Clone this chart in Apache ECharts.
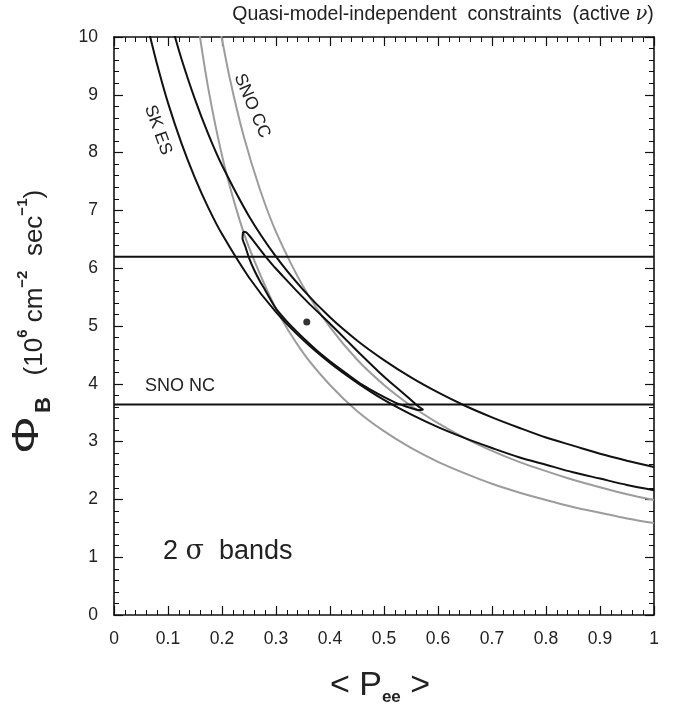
<!DOCTYPE html>
<html><head><meta charset="utf-8">
<script src="https://cdn.jsdelivr.net/npm/echarts@6/dist/echarts.min.js"></script>
<style>html,body{margin:0;padding:0;background:#fff}#c{width:680px;height:713px}</style>
</head><body><div id="c"></div>
<script>
// SK ES 2-sigma band (black)
const skLowerP   = [0.065,0.08,0.1,0.125,0.15,0.175,0.2,0.25,0.3,0.35,0.4,0.45,0.5,0.55,0.6,0.65,0.7,0.75,0.8,0.85,0.9,0.95,1.0];
const skLowerPhi = [10.08,9.52,8.86,8.16,7.56,7.04,6.59,5.84,5.24,4.76,4.36,4.02,3.72,3.47,3.25,3.06,2.89,2.73,2.60,2.47,2.36,2.25,2.16];
const skUpperP   = [0.11,0.125,0.15,0.175,0.2,0.25,0.3,0.35,0.4,0.45,0.5,0.55,0.6,0.65,0.7,0.75,0.8,0.85,0.9,0.95,1.0];
const skUpperPhi = [10.10,9.62,8.92,8.31,7.78,6.90,6.20,5.63,5.15,4.75,4.41,4.11,3.85,3.62,3.42,3.24,3.07,2.93,2.79,2.67,2.56];
// SNO CC 2-sigma band (gray)
const ccLowerP   = [0.155,0.175,0.2,0.225,0.25,0.3,0.35,0.4,0.45,0.5,0.55,0.6,0.65,0.7,0.75,0.8,0.85,0.9,0.95,1.0];
const ccLowerPhi = [10.26,9.09,7.95,7.07,6.36,5.30,4.54,3.98,3.53,3.18,2.89,2.65,2.45,2.27,2.12,1.99,1.87,1.77,1.67,1.59];
const ccUpperP   = [0.195,0.215,0.24,0.27,0.3,0.35,0.4,0.45,0.5,0.55,0.6,0.65,0.7,0.75,0.8,0.85,0.9,0.95,1.0];
const ccUpperPhi = [10.21,9.26,8.29,7.37,6.63,5.69,4.98,4.42,3.98,3.62,3.32,3.06,2.84,2.65,2.49,2.34,2.21,2.09,1.99];
// SNO NC 2-sigma band (horizontal)
const ncLevels = [6.2, 3.64];
const ncRangeP = [0, 1];
// combined 2-sigma contour
const contourP   = [0.239,0.245,0.25,0.26,0.27,0.28,0.30,0.32,0.34,0.36,0.38,0.40,0.43,0.46,0.49,0.52,0.55,0.565,0.572,
                    0.565,0.55,0.52,0.49,0.46,0.43,0.40,0.38,0.36,0.34,0.32,0.30,0.28,0.27,0.26,0.25,0.243,0.238,0.239];
const contourPhi = [6.63,6.62,6.57,6.45,6.33,6.21,5.99,5.79,5.59,5.40,5.22,5.04,4.76,4.48,4.21,3.96,3.72,3.60,3.555,
                    3.545,3.58,3.68,3.82,3.98,4.18,4.39,4.54,4.71,4.89,5.08,5.30,5.62,5.78,5.96,6.18,6.38,6.52,6.63];
// best fit point
const bestFit = [0.357, 5.07];
// ticks
const xTicks = [0,0.1,0.2,0.3,0.4,0.5,0.6,0.7,0.8,0.9,1];
const yTicks = [0,1,2,3,4,5,6,7,8,9,10];

const zip = (a,b) => a.map((v,i)=>[v,b[i]]);
const FONT = 'Liberation Sans, Arial, sans-serif';
const BLACK = '#111', GRAY = '#9c9c9c';

function axisCommon(extra){
  return Object.assign({
    type:'value', splitLine:{show:false},
    axisLine:{show:true, onZero:false, lineStyle:{color:BLACK, width:1.6}},
    axisTick:{show:true, inside:true, length:9, lineStyle:{color:BLACK, width:1.2}},
    minorTick:{show:true, splitNumber:5, length:5, lineStyle:{color:BLACK, width:1}},
  }, extra);
}

const chart = echarts.init(document.getElementById('c'), null, {renderer:'canvas'});
const lineS = (name, data, color, z) => ({
  name, type:'line', data, showSymbol:false, symbol:'none', smooth:0.3, clip:true, z:z||2,
  lineStyle:{color, width:2}, animation:false, xAxisIndex:0, yAxisIndex:0
});

chart.setOption({
  animation:false,
  backgroundColor:'#fff',
  grid:{left:114, right:26, top:37, bottom:98, containLabel:false},
  xAxis:[
    axisCommon({position:'bottom', min:xTicks[0], max:xTicks[xTicks.length-1], interval:0.1,
      axisLabel:{show:true, color:'#222', fontSize:17.5, fontFamily:FONT, margin:15,
        formatter:v=>String(Math.round(v*10)/10)}}),
    axisCommon({position:'top', min:0, max:1, interval:0.1, axisLabel:{show:false}})
  ],
  yAxis:[
    axisCommon({position:'left', min:yTicks[0], max:yTicks[yTicks.length-1], interval:1,
      axisLabel:{show:true, color:'#222', fontSize:17.5, fontFamily:FONT, margin:16}}),
    axisCommon({position:'right', min:0, max:10, interval:1, axisLabel:{show:false}})
  ],
  series:[
    lineS('SK ES low', zip(skLowerP, skLowerPhi), BLACK, 3),
    lineS('SK ES high', zip(skUpperP, skUpperPhi), BLACK, 3),
    lineS('SNO CC low', zip(ccLowerP, ccLowerPhi), GRAY, 2),
    lineS('SNO CC high', zip(ccUpperP, ccUpperPhi), GRAY, 2),
    Object.assign(lineS('SNO NC high', zip(ncRangeP, [ncLevels[0], ncLevels[0]]), BLACK, 3), {smooth:false}),
    Object.assign(lineS('SNO NC low', zip(ncRangeP, [ncLevels[1], ncLevels[1]]), BLACK, 3), {smooth:false}),
    Object.assign(lineS('contour', zip(contourP, contourPhi), BLACK, 4), {smooth:0.25}),
    {type:'scatter', data:[bestFit], symbol:'circle', symbolSize:7, itemStyle:{color:'#000'}, z:5, animation:false}
  ],
  graphic:[
    {type:'text', x:443, y:15, style:{
      text:'{t|Quasi-model-independent  constraints  (active }{nu|ν}{t|)}',
      align:'center', verticalAlign:'middle',
      rich:{t:{fontSize:19.5, fontFamily:FONT, fill:'#222'}, nu:{fontSize:19.5, fontFamily:'DejaVu Serif, serif', fontStyle:'italic', fill:'#222'}}}},
    {type:'text', x:158, y:130, rotation:-70*Math.PI/180, style:{
      text:'SK ES', align:'center', verticalAlign:'middle', fontSize:17.5, fontFamily:FONT, fill:'#222'}},
    {type:'text', x:252, y:106, rotation:-67*Math.PI/180, style:{
      text:'SNO CC', align:'center', verticalAlign:'middle', fontSize:17.5, fontFamily:FONT, fill:'#222'}},
    {type:'text', x:145, y:386, style:{
      text:'SNO NC', align:'left', verticalAlign:'middle', fontSize:18, fontFamily:FONT, fill:'#222'}},
    {type:'text', x:163, y:552, style:{
      text:'{n|2 }{s|σ}{n|  bands}', align:'left', verticalAlign:'middle',
      rich:{n:{fontSize:27, fontFamily:FONT, fill:'#222'}, s:{fontSize:27, fontFamily:'DejaVu Serif, serif', fill:'#222'}}}},
    {type:'text', x:380, y:686, style:{
      text:'{a|< }{p|P}{s|ee}{a| >}', align:'center', verticalAlign:'middle',
      rich:{a:{fontSize:34, fontFamily:FONT, fill:'#222', lineHeight:40, verticalAlign:'middle'},
            p:{fontSize:34, fontFamily:FONT, fill:'#222', lineHeight:40, verticalAlign:'middle'},
            s:{fontSize:17, fontFamily:FONT, fontWeight:'bold', fill:'#222', lineHeight:40, verticalAlign:'bottom'}}}},
    {type:'text', x:28, y:435, rotation:Math.PI/2, scaleX:1.3, style:{
      text:'Φ', align:'center', verticalAlign:'middle', fontSize:36, fontFamily:FONT, fill:'#222'}},
    {type:'text', x:35, y:413, rotation:Math.PI/2, style:{
      text:'{sub|B}{n|   (10}{sup|6}{n| cm}{sup|−2}{n|  sec}{sup|−1}{n|)}',
      align:'left', verticalAlign:'middle',
      rich:{sub:{fontSize:22, fontFamily:FONT, fontWeight:'bold', fill:'#222', lineHeight:40, verticalAlign:'bottom'},
            n:{fontSize:26, fontFamily:FONT, fill:'#222', lineHeight:40, verticalAlign:'middle'},
            sup:{fontSize:15, fontFamily:FONT, fontWeight:'bold', fill:'#222', lineHeight:40, verticalAlign:'top'}}}}
  ]
});
</script></body></html>
